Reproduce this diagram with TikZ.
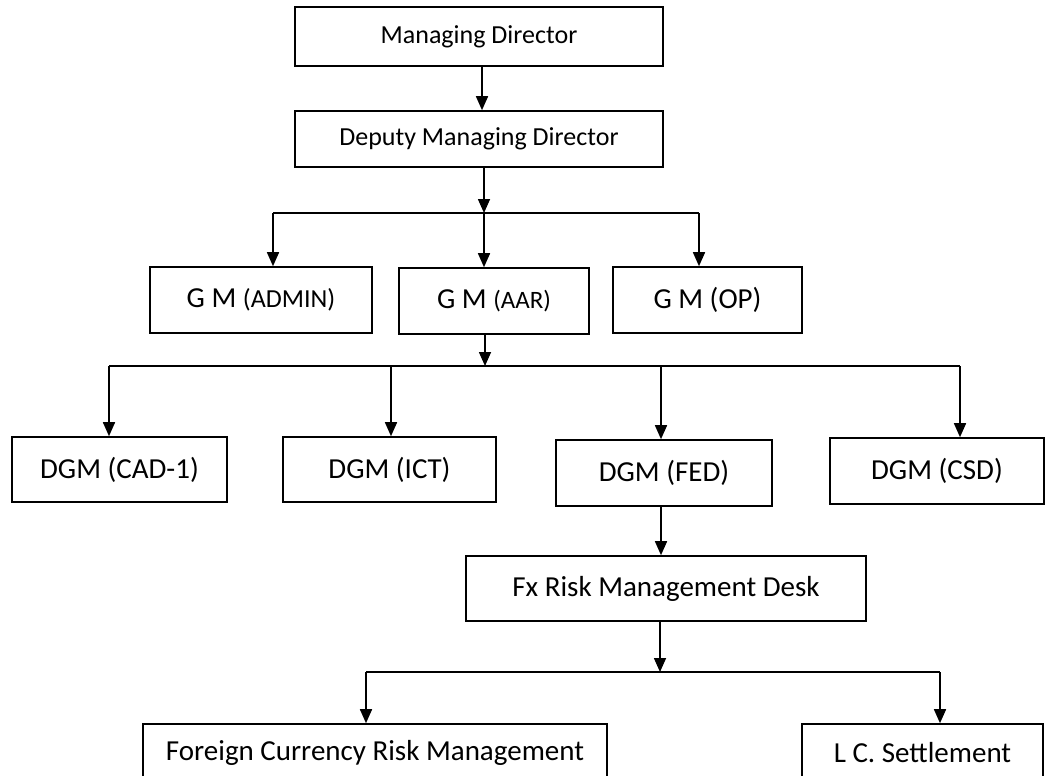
\documentclass[tikz,border=0pt]{standalone}
\usepackage{fontspec}
\setmainfont{Carlito}
\usetikzlibrary{arrows.meta}
\begin{document}
\begin{tikzpicture}[x=1pt,y=-1pt,
  box/.style={draw, line width=1.6pt, inner sep=0pt, fill=white, font=\fontsize{29}{34}\selectfont},
  topbox/.style={box, font=\fontsize{26}{31}\selectfont},
  conn/.style={line width=1.6pt},
  arr/.style={line width=1.6pt, -{Triangle[width=12pt,length=14pt]}}]
\useasboundingbox (0,0) rectangle (1047,776);
\clip (0,0) rectangle (1047,776);
% nodes
\node[topbox, minimum width=368pt, minimum height=59pt] (md) at (479,36.5) {Managing Director};
\node[topbox, minimum width=368pt, minimum height=56pt] (dmd) at (479,139) {Deputy Managing Director};
\node[box, minimum width=222pt, minimum height=66pt] (admin) at (261,300) {G M {\fontsize{26}{31}\selectfont(ADMIN)}};
\node[box, minimum width=190pt, minimum height=66pt] (aar) at (494,301) {G M {\fontsize{25}{30}\selectfont(AAR)}};
\node[box, minimum width=189pt, minimum height=66pt] (op) at (707.5,300) {G M (OP)};
\node[box, minimum width=215pt, minimum height=65pt] (cad) at (119.5,469.5) {DGM (CAD-1)};
\node[box, minimum width=213pt, minimum height=65pt] (ict) at (389.5,469.5) {DGM (ICT)};
\node[box, minimum width=216pt, minimum height=66pt] (fed) at (664,473) {DGM (FED)};
\node[box, minimum width=214pt, minimum height=66pt] (csd) at (937,471) {DGM (CSD)};
\node[box, minimum width=400pt, minimum height=65pt] (fx) at (666,588.5) {Fx Risk Management Desk};
\node[box, minimum width=464pt, minimum height=58pt] (fcrm) at (375,753) {Foreign Currency Risk Management};
\node[box, minimum width=241pt, minimum height=58pt] (lc) at (922.5,753) {L C. Settlement};
% junction coordinates
\coordinate (h1a) at (273,213);
\coordinate (h1m) at (484,213);
\coordinate (h1b) at (699,213);
\coordinate (h2a) at (109,366);
\coordinate (h2c) at (391,366);
\coordinate (h2m) at (485,366);
\coordinate (h2d) at (661,366);
\coordinate (h2b) at (960,366);
\coordinate (h3a) at (366,672);
\coordinate (h3m) at (660,672);
\coordinate (h3b) at (940,672);
% connectors
\draw[arr] (md.south -| 482,0) -- (dmd.north -| 482,0);
\draw[arr] (dmd.south -| h1m) -- (h1m);
\draw[conn] (h1a) -- (h1b);
\draw[arr] (h1a) -- (h1a |- admin.north);
\draw[arr] (h1m) -- (h1m |- aar.north);
\draw[arr] (h1b) -- (h1b |- op.north);
\draw[arr] (aar.south -| h2m) -- (h2m);
\draw[conn] (h2a) -- (h2b);
\draw[arr] (h2a) -- (h2a |- cad.north);
\draw[arr] (h2c) -- (h2c |- ict.north);
\draw[arr] (h2d) -- (h2d |- fed.north);
\draw[arr] (h2b) -- (h2b |- csd.north);
\draw[arr] (fed.south -| h2d) -- (h2d |- fx.north);
\draw[arr] (fx.south -| h3m) -- (h3m);
\draw[conn] (h3a) -- (h3b);
\draw[arr] (h3a) -- (h3a |- fcrm.north);
\draw[arr] (h3b) -- (h3b |- lc.north);
\end{tikzpicture}
\end{document}
